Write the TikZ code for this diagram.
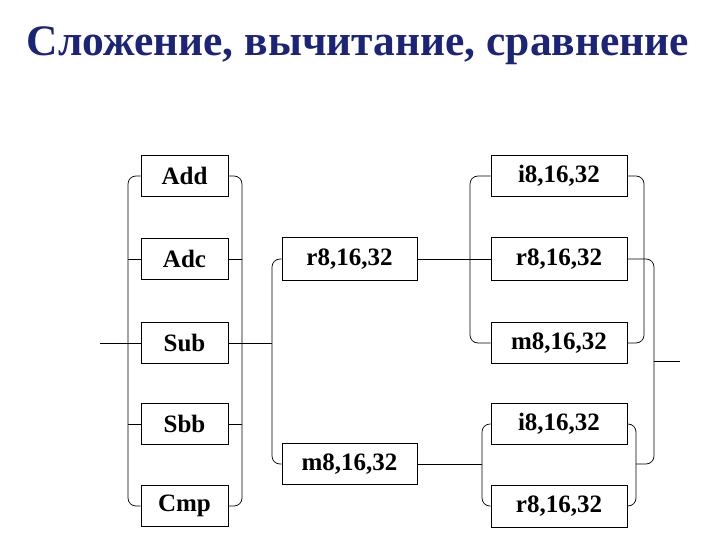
\documentclass[tikz,border=0pt]{standalone}
\usepackage{fontspec}
\setmainfont{Liberation Serif}
\definecolor{titleblue}{RGB}{28,36,120}
\begin{document}
\begin{tikzpicture}[x=1pt,y=-1pt,
  bx/.style={draw,line width=0.8pt,fill=white,inner sep=0pt,font=\fontsize{25}{28}\selectfont\bfseries},
  ln/.style={line width=0.7pt,rounded corners=8pt}]
\useasboundingbox (0,0) rectangle (720,540);
\node[font=\fontsize{43.5}{48}\selectfont\bfseries,text=titleblue] (title) at (358,46) {Сложение, вычитание, сравнение};
% left column
\foreach \n/\t/\y in {Add/Add/176,Adc/Adc/259,Sub/Sub/343,Sbb/Sbb/424,Cmp/Cmp/506}
  \node[bx,minimum width=87,minimum height=41] (\n) at (184.5,\y) {\t};
% middle
\node[bx,minimum width=135,minimum height=43] (Mr) at (349.5,259) {r8,16,32};
\node[bx,minimum width=135,minimum height=41] (Mm) at (349.5,464) {m8,16,32};
% right upper
\node[bx,minimum width=136,minimum height=41] (Ui) at (559,176) {i8,16,32};
\node[bx,minimum width=136,minimum height=43] (Ur) at (559,259) {r8,16,32};
\node[bx,minimum width=136,minimum height=41] (Um) at (559,343) {m8,16,32};
% right lower
\node[bx,minimum width=136,minimum height=41] (Li) at (559,424) {i8,16,32};
\node[bx,minimum width=136,minimum height=42] (Lr) at (559,506) {r8,16,32};
\coordinate (in) at (100,343);
\coordinate (out) at (680,361);
% left group
\draw[ln] (Add.west) -- (128,176) |- (Cmp.west);
\draw[ln] (Add.east) -- (242,176) |- (Cmp.east);
\draw[ln] (in) -- (Sub.west);
\foreach \n in {Adc,Sbb} {\draw[ln] (\n.west) -- ++(-13,0); \draw[ln] (\n.east) -- ++(14,0);}
% middle group
\draw[ln] (Mr.west) -- (272,259) |- (Mm.west);
\draw[ln] (Sub.east) -- (272,343);
% right upper
\draw[ln] (Ui.west) -- (470,176) |- (Um.west);
\draw[ln] (Ui.east) -- (644,176) |- (Um.east);
\draw[ln] (Mr.east) -- (Ur.west);
% right lower
\draw[ln] (Li.west) -- (482,424) |- (Lr.west);
\draw[ln] (Li.east) -- (636,424) |- (Lr.east);
\draw[ln] (Mm.east) -- (482,464);
% big right rail
\draw[ln] (Ur.east) -- (654,259) |- (636,464);
\draw[ln] (654,361) -- (out);
\end{tikzpicture}
\end{document}
